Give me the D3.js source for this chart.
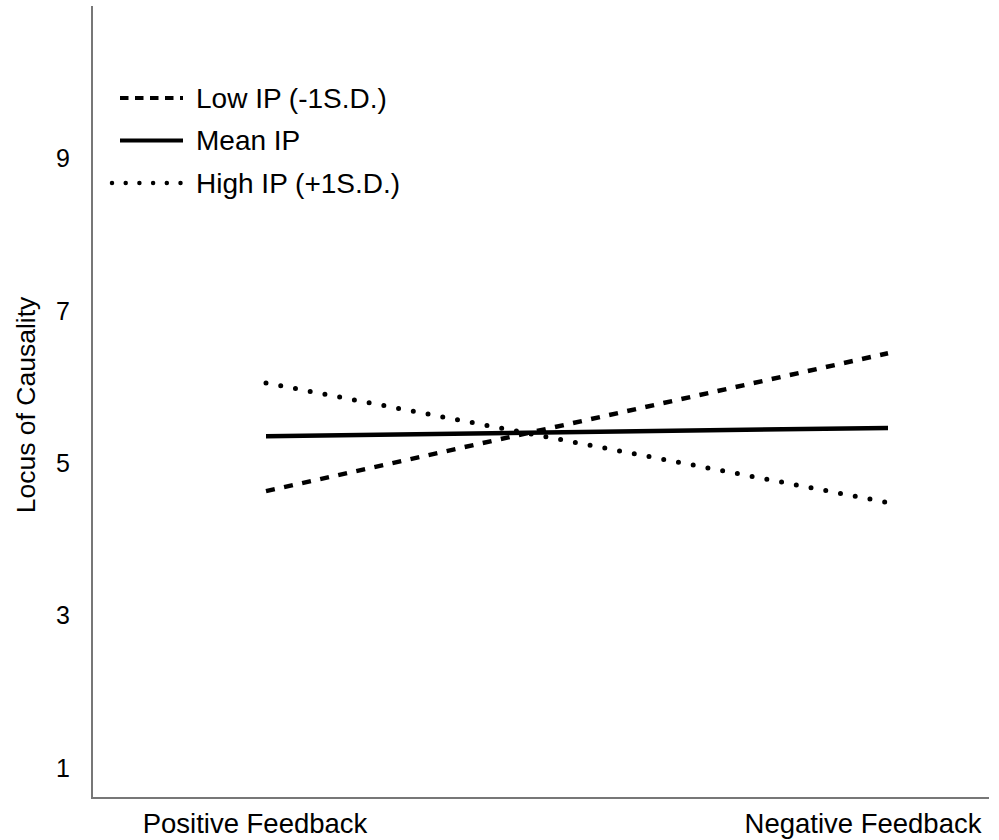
<!DOCTYPE html>
<html>
<head>
<meta charset="utf-8">
<script src="https://cdn.jsdelivr.net/npm/d3@7"></script>
<style>
  body { margin: 0; background: #fff; }
  svg { display: block; font-family: "Liberation Sans", Arial, sans-serif; }
</style>
</head>
<body>
<svg id="chart" width="999" height="840"></svg>
<script>
const categories = ["Positive Feedback", "Negative Feedback"];
const seriesNames = ["Low IP (-1S.D.)", "Mean IP", "High IP (+1S.D.)"];
const lowIP = [4.63, 6.44];
const meanIP = [5.35, 5.46];
const highIP = [6.05, 4.48];
const yTicks = [1, 3, 5, 7, 9];
const yTitle = "Locus of Causality";

const series = [
  { name: seriesNames[0], values: lowIP, dash: "9 9.5", legendDash: "8.5 6.5", cap: "butt", width: 4.5 },
  { name: seriesNames[1], values: meanIP, dash: null, legendDash: null, cap: "butt", width: 4.5 },
  { name: seriesNames[2], values: highIP, dash: "0 15", legendDash: "0 13.7", cap: "round", width: 5 }
];

const svg = d3.select("#chart");
const axisColor = "#777";

const x = d3.scalePoint().domain(categories).range([266, 888]);
const xLabel = d3.scalePoint().domain(categories).range([255, 863]);
const y = d3.scaleLinear().domain([0.6, 11]).range([798, 6]);

// axes lines
svg.append("line").attr("x1", 92).attr("x2", 92).attr("y1", y(11)).attr("y2", y(0.6) + 1)
  .attr("stroke", axisColor).attr("stroke-width", 2);
svg.append("line").attr("x1", 91).attr("x2", 989).attr("y1", y(0.6)).attr("y2", y(0.6))
  .attr("stroke", axisColor).attr("stroke-width", 2);

// y tick labels
svg.append("g").selectAll("text").data(yTicks).join("text")
  .attr("x", 70).attr("y", d => y(d))
  .attr("text-anchor", "end").attr("dominant-baseline", "central")
  .attr("font-size", 25).attr("fill", "#000")
  .text(d => d);

// x labels
svg.append("g").selectAll("text").data(categories).join("text")
  .attr("x", d => xLabel(d)).attr("y", 833)
  .attr("text-anchor", "middle")
  .attr("font-size", 27.5).attr("fill", "#000")
  .text(d => d);

// y title
svg.append("text")
  .attr("transform", "translate(35,405) rotate(-90)")
  .attr("text-anchor", "middle")
  .attr("font-size", 26.5).attr("fill", "#000")
  .text(yTitle);

// lines
const line = d3.line().x((d, i) => x(categories[i])).y(d => y(d));
svg.append("g").selectAll("path").data(series).join("path")
  .attr("d", d => line(d.values))
  .attr("fill", "none").attr("stroke", "#000")
  .attr("stroke-width", d => d.width)
  .attr("stroke-linecap", d => d.cap)
  .attr("stroke-dasharray", d => d.dash);

// legend
const leg = svg.append("g");
const rowY = d3.scalePoint().domain(seriesNames).range([98, 183]);
series.forEach((s, i) => {
  const yy = rowY(s.name);
  leg.append("line")
    .attr("x1", i === 2 ? 112 : 120).attr("x2", 183).attr("y1", yy).attr("y2", yy)
    .attr("stroke", "#000").attr("stroke-width", i === 2 ? 4.5 : 4)
    .attr("stroke-linecap", s.cap)
    .attr("stroke-dasharray", s.legendDash);
  leg.append("text")
    .attr("x", 196).attr("y", yy)
    .attr("dominant-baseline", "central")
    .attr("font-size", 28).attr("fill", "#000")
    .text(s.name);
});
</script>
</body>
</html>
